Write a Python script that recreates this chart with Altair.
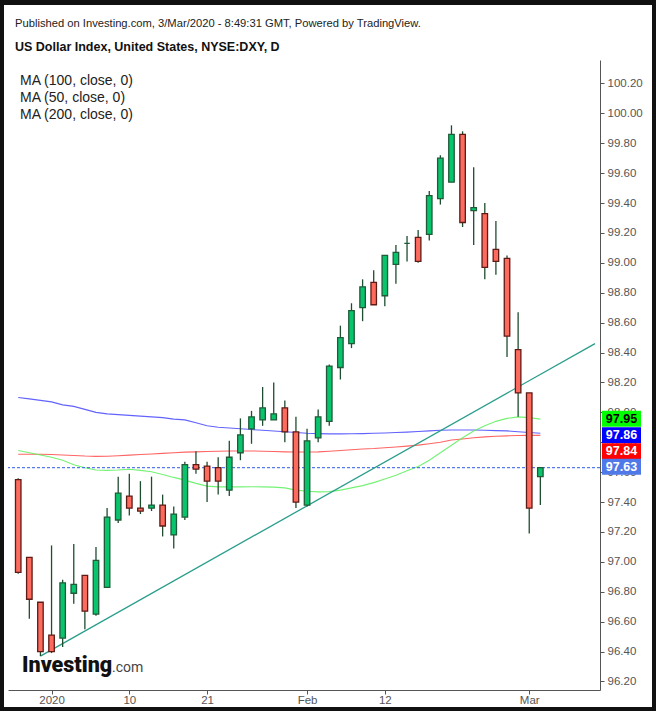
import altair as alt
import pandas as pd

# ---------------- data ----------------
dates = ["2019-12-27", "2019-12-30", "2019-12-31", "2020-01-01", "2020-01-02", "2020-01-03",
         "2020-01-06", "2020-01-07", "2020-01-08", "2020-01-09", "2020-01-10", "2020-01-13",
         "2020-01-14", "2020-01-15", "2020-01-16", "2020-01-17", "2020-01-20", "2020-01-21",
         "2020-01-22", "2020-01-23", "2020-01-24", "2020-01-27", "2020-01-28", "2020-01-29",
         "2020-01-30", "2020-01-31", "2020-02-03", "2020-02-04", "2020-02-05", "2020-02-06",
         "2020-02-07", "2020-02-10", "2020-02-11", "2020-02-12", "2020-02-13", "2020-02-14",
         "2020-02-17", "2020-02-18", "2020-02-19", "2020-02-20", "2020-02-21", "2020-02-24",
         "2020-02-25", "2020-02-26", "2020-02-27", "2020-02-28", "2020-03-02", "2020-03-03"]

opens = [97.55, 97.03, 96.73, 96.51, 96.49, 96.79, 96.91, 96.65, 96.83, 97.28, 97.44, 97.36,
         97.36, 97.38, 97.18, 97.30, 97.65, 97.64, 97.63, 97.48, 97.73, 97.89, 97.95, 97.95,
         98.03, 97.87, 97.38, 97.83, 97.94, 98.30, 98.46, 98.70, 98.87, 98.78, 98.99, 99.13,
         99.17, 99.19, 99.43, 99.54, 99.86, 99.35, 99.33, 99.09, 99.03, 98.42, 98.13, 97.57]
highs = [97.56, 97.03, 96.73, 97.11, 96.88, 97.12, 96.91, 97.10, 97.36, 97.57, 97.59, 97.54,
         97.57, 97.45, 97.37, 97.67, 97.74, 97.67, 97.70, 97.81, 97.96, 98.01, 98.17, 98.20,
         98.08, 97.97, 97.89, 98.02, 98.32, 98.58, 98.73, 98.89, 98.95, 99.05, 99.12, 99.18,
         99.22, 99.48, 99.72, 99.92, 99.88, 99.64, 99.40, 99.28, 99.05, 98.67, 98.13, 97.63]
lows = [96.92, 96.62, 96.37, 96.39, 96.43, 96.72, 96.55, 96.64, 96.83, 97.26, 97.31, 97.32,
        97.34, 97.17, 97.09, 97.28, 97.59, 97.40, 97.45, 97.44, 97.68, 97.79, 97.91, 97.95,
        97.80, 97.36, 97.37, 97.80, 97.91, 98.22, 98.43, 98.61, 98.72, 98.71, 98.86, 99.01,
        99.00, 99.15, 99.39, 99.54, 99.24, 99.12, 98.89, 98.92, 98.37, 97.97, 97.19, 97.38]
closes = [96.93, 96.75, 96.40, 96.40, 96.86, 96.85, 96.67, 97.01, 97.30, 97.46, 97.36, 97.34,
          97.38, 97.24, 97.32, 97.65, 97.62, 97.54, 97.54, 97.70, 97.85, 97.97, 98.03, 97.99,
          97.87, 97.40, 97.81, 97.97, 98.31, 98.50, 98.68, 98.84, 98.72, 99.05, 99.07, 99.13,
          99.01, 99.45, 99.70, 99.86, 99.27, 99.37, 98.97, 99.01, 98.51, 98.13, 97.36, 97.63]

# moving averages (blue = MA 100, green = MA 50, red = MA 200)
ma100 = [98.10, 98.09, 98.08, 98.07, 98.05, 98.04, 98.02, 98.00, 97.99, 97.985, 97.98, 97.975,
         97.97, 97.965, 97.955, 97.95, 97.93, 97.91, 97.90, 97.895, 97.89, 97.885, 97.88, 97.875,
         97.87, 97.865, 97.86, 97.858, 97.856, 97.856, 97.857, 97.858, 97.86, 97.862, 97.865, 97.868,
         97.872, 97.876, 97.88, 97.882, 97.882, 97.882, 97.88, 97.878, 97.876, 97.87, 97.865, 97.86]
ma50 = [97.745, 97.73, 97.715, 97.70, 97.68, 97.65, 97.63, 97.615, 97.612, 97.615, 97.62, 97.612,
        97.603, 97.585, 97.565, 97.547, 97.525, 97.507, 97.502, 97.502, 97.502, 97.503, 97.502, 97.50,
        97.495, 97.48, 97.472, 97.468, 97.47, 97.48, 97.495, 97.51, 97.53, 97.555, 97.58, 97.61,
        97.638, 97.68, 97.73, 97.78, 97.83, 97.875, 97.91, 97.94, 97.96, 97.97, 97.965, 97.955]
ma200 = [97.72, 97.72, 97.72, 97.718, 97.715, 97.712, 97.708, 97.706, 97.707, 97.71, 97.714, 97.718,
         97.722, 97.726, 97.73, 97.734, 97.736, 97.738, 97.74, 97.742, 97.742, 97.742, 97.74, 97.738,
         97.736, 97.735, 97.735, 97.736, 97.74, 97.745, 97.75, 97.755, 97.758, 97.763, 97.768, 97.774,
         97.781, 97.79, 97.80, 97.815, 97.822, 97.83, 97.836, 97.84, 97.843, 97.845, 97.846, 97.846]

x_tick_index = [3, 10, 17, 26, 33, 46]
x_tick_labels = ["2020", "10", "21", "Feb", "12", "Mar"]
y_ticks = [96.2, 96.4, 96.6, 96.8, 97.0, 97.2, 97.4, 97.6, 97.8, 98.0, 98.2,
           98.4, 98.6, 98.8, 99.0, 99.2, 99.4, 99.6, 99.8, 100.0, 100.2]

last_price = 97.63
trend_index = [2, 51.92]
trend_value = [96.37, 98.46]

price_label_values = [97.95, 97.86, 97.84, 97.63]
price_label_fill = ["#00ff00", "#0000ff", "#ff0000", "#4f78e8"]
price_label_text = ["#000000", "#ffffff", "#ffffff", "#ffffff"]
price_label_shift = [-1, 2, 15, -1]

title_line1 = "Published on Investing.com, 3/Mar/2020 - 8:49:31 GMT, Powered by TradingView."
title_line2 = "US Dollar Index, United States, NYSE:DXY, D"
legend_lines = ["MA (100, close, 0)", "MA (50, close, 0)", "MA (200, close, 0)"]

# ---------------- styling ----------------
FONT = "Liberation Sans"
W, H = 592, 630
UP_FILL, DOWN_FILL = "#08c46c", "#fd6b5e"
UP_STROKE, DOWN_STROKE = "#1f5b38", "#5e1a14"
WICK = "#1f4d30"

df = pd.DataFrame({
    "idx": list(range(len(dates))), "date": dates,
    "open": opens, "high": highs, "low": lows, "close": closes,
})
df["dir"] = ["up" if c >= o else "down" for o, c in zip(opens, closes)]

ma_df = pd.concat([
    pd.DataFrame({"idx": list(range(len(dates))), "v": ma100, "s": "ma100"}),
    pd.DataFrame({"idx": list(range(len(dates))), "v": ma200, "s": "ma200"}),
    pd.DataFrame({"idx": list(range(len(dates))), "v": ma50, "s": "ma50"}),
])

xscale = alt.Scale(domain=[-0.47, 51.92], nice=False, zero=False)
yscale = alt.Scale(domain=[96.143, 100.357], nice=False, zero=False)

label_expr = ("[" + ",".join("'%s'" % l for l in x_tick_labels) + "][indexof(["
              + ",".join(str(i) for i in x_tick_index) + "], datum.value)]")

xaxis = alt.Axis(values=x_tick_index, labelExpr=label_expr, title=None, grid=False,
                 labelColor="#555555", labelFont=FONT, labelFontSize=11.5, tickColor="#555555",
                 tickSize=4, domainColor="#555555", labelPadding=0)
yaxis = alt.Axis(orient="right", values=y_ticks, format=".2f", title=None, grid=False,
                 labelColor="#555555", labelFont=FONT, labelFontSize=11.5, tickColor="#555555",
                 tickSize=4, domainColor="#555555", labelPadding=3)


def X(f):
    return alt.X(f, type="quantitative", scale=xscale, axis=xaxis)


def Y(f):
    return alt.Y(f, type="quantitative", scale=yscale, axis=yaxis)


layers = []

# moving average lines
layers.append(
    alt.Chart(ma_df).mark_line(strokeWidth=1.1, opacity=0.85).encode(
        x=X("idx"), y=Y("v"),
        color=alt.Color("s:N", scale=alt.Scale(domain=["ma100", "ma200", "ma50"],
                                                range=["#4646ff", "#ff4a4a", "#5cf05c"]), legend=None),
        detail="s:N",
    )
)

# last price dashed line
layers.append(
    alt.Chart(pd.DataFrame({"v": [last_price]})).mark_rule(
        color="#2f5bea", strokeDash=[3, 2], strokeWidth=1).encode(y=Y("v"))
)

# trend line
layers.append(
    alt.Chart(pd.DataFrame({"idx": trend_index, "v": trend_value})).mark_line(
        color="#2a9d8c", strokeWidth=1.3, clip=True).encode(x=X("idx"), y=Y("v"))
)

# wicks
layers.append(
    alt.Chart(df).mark_rule(color=WICK, strokeWidth=1.3).encode(
        x=X("idx"), y=Y("low"), y2="high")
)

# bodies
layers.append(
    alt.Chart(df).mark_bar(size=5.5, strokeWidth=1.3).encode(
        x=X("idx"), y=Y("open"), y2="close",
        fill=alt.Fill("dir:N", scale=alt.Scale(domain=["up", "down"], range=[UP_FILL, DOWN_FILL]), legend=None),
        stroke=alt.Stroke("dir:N", scale=alt.Scale(domain=["up", "down"], range=[UP_STROKE, DOWN_STROKE]), legend=None),
    )
)

# price labels on the right axis
half = 8 / 149.5
for v, fc, tc, dy in zip(price_label_values, price_label_fill, price_label_text, price_label_shift):
    d = pd.DataFrame({"v": [v], "lo": [v - half], "hi": [v + half], "t": ["%.2f" % v]})
    layers.append(
        alt.Chart(d).mark_rect(color=fc, yOffset=dy, y2Offset=dy).encode(
            x=alt.value(594), x2=alt.value(633), y=Y("lo"), y2="hi")
    )
    layers.append(
        alt.Chart(d).mark_text(color=tc, font=FONT, fontSize=12.5, fontWeight="bold",
                               align="center", baseline="middle", yOffset=dy).encode(
            x=alt.value(613.5), y=Y("v"), text="t:N")
    )

# header texts
def text_layer(txt, x, y, size, weight="normal", color="#222222", font=FONT):
    return alt.Chart(pd.DataFrame({"t": [txt]})).mark_text(
        align="left", baseline="alphabetic", font=font, fontSize=size, fontWeight=weight, color=color
    ).encode(x=alt.value(x), y=alt.value(y), text="t:N")


layers.append(text_layer(title_line1, 7, -33, 11.2))
layers.append(text_layer(title_line2, 7, -9, 12.5, weight="bold", color="#111111"))
for i, line in enumerate(legend_lines):
    layers.append(text_layer(line, 12, 25 + 17 * i, 14))

# Investing.com logo
layers.append(text_layer("Investing", 14, 612, 21.5, weight=900, color="#111111", font="Roboto"))
layers.append(text_layer(".com", 104, 612, 14, color="#444444", font="Roboto"))

# dark frame around the picture
frame = pd.DataFrame({
    "x": [-8, -8, 644, -8], "x2": [-4, 648, 648, 648],
    "y": [-60, -60, -60, 647], "y2": [651, -55, 651, 651],
})
for _, r in frame.iterrows():
    layers.append(
        alt.Chart(pd.DataFrame({"a": [1]})).mark_rect(color="#111111").encode(
            x=alt.value(r["x"]), x2=alt.value(r["x2"]), y=alt.value(r["y"]), y2=alt.value(r["y2"]))
    )

chart = alt.layer(*layers).properties(
    width=W, height=H,
    padding={"left": 8, "top": 60, "right": 56, "bottom": 21},
    autosize=alt.AutoSizeParams(type="none"),
    background="white",
).configure_view(stroke="transparent")

chart.save("out.html", embed_options={"renderer": "svg", "actions": False})
